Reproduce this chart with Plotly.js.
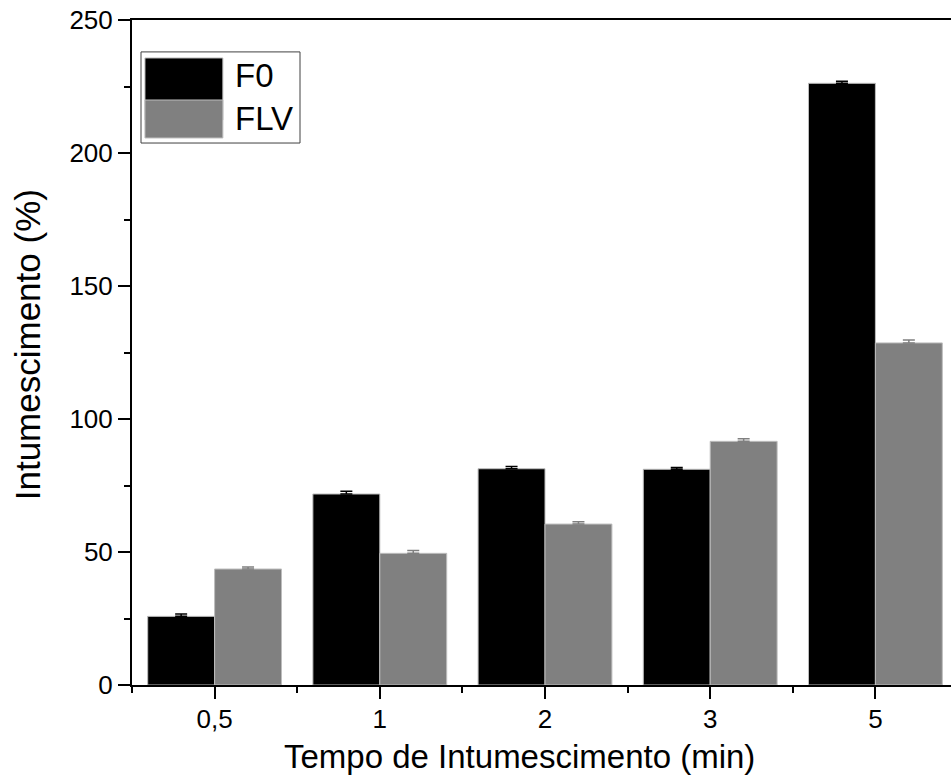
<!DOCTYPE html>
<html>
<head>
<meta charset="utf-8">
<script src="https://cdn.plot.ly/plotly-3.0.1.min.js"></script>
<style>
  html, body { margin: 0; padding: 0; overflow: hidden; background: #fff; }
  #chart { width: 970px; height: 776px; }
</style>
</head>
<body>
<div id="chart"></div>
<script>
// ---- data ----
const categories = ["0,5", "1", "2", "3", "5"];
const seriesNames = ["F0", "FLV"];
const f0Values = [25.8, 71.8, 81.3, 81.1, 226.2];
const f0Errors = [0.9, 1.0, 0.8, 0.7, 0.8];
const flvValues = [43.6, 49.5, 60.5, 91.6, 128.6];
const flvErrors = [0.8, 1.1, 0.9, 1.0, 1.1];
const yTickVals = [0, 50, 100, 150, 200, 250];
const xTitle = "Tempo de Intumescimento (min)";
const yTitle = "Intumescimento (%)";

const colors = ["#000000", "#808080"];
const font = "Liberation Sans, Arial, Helvetica, sans-serif";
const xIdx = categories.map((c, i) => i);

const traces = [
  {
    type: "bar", name: seriesNames[0], x: xIdx, y: f0Values,
    marker: { color: colors[0], line: { color: "#bdbdbd", width: 1 } },
    error_y: { type: "data", array: f0Errors, arrayminus: f0Errors.map(() => 0), symmetric: false,
               color: "#000000", thickness: 1.5, width: 6 },
    showlegend: false
  },
  {
    type: "bar", name: seriesNames[1], x: xIdx, y: flvValues,
    marker: { color: colors[1], line: { color: "#bdbdbd", width: 1 } },
    error_y: { type: "data", array: flvErrors, arrayminus: flvErrors.map(() => 0), symmetric: false,
               color: "#808080", thickness: 1.5, width: 6 },
    showlegend: false
  }
];

// custom legend (large swatches like the original)
const legShapes = [
  { type: "rect", xref: "paper", yref: "paper", x0: 0.0109, x1: 0.2034, y0: 0.815, y1: 0.952,
    line: { color: "#404040", width: 1 }, fillcolor: "#ffffff", layer: "above" },
  { type: "rect", xref: "paper", yref: "paper", x0: 0.0157, x1: 0.110, y0: 0.8496, y1: 0.9429,
    line: { color: "#bdbdbd", width: 1 }, fillcolor: colors[0], layer: "above" },
  { type: "rect", xref: "paper", yref: "paper", x0: 0.0157, x1: 0.110, y0: 0.8226, y1: 0.8797,
    line: { color: "#bdbdbd", width: 1 }, fillcolor: colors[1], layer: "above" }
];
const anns = [
  { xref: "paper", yref: "paper", x: 0.1223, y: 0.9158, xanchor: "left", yanchor: "middle",
    text: seriesNames[0], showarrow: false, font: { family: font, size: 33, color: "#000" } },
  { xref: "paper", yref: "paper", x: 0.1223, y: 0.8526, xanchor: "left", yanchor: "middle",
    text: seriesNames[1], showarrow: false, font: { family: font, size: 33, color: "#000" } },
  // axis titles
  { xref: "paper", yref: "paper", x: 0.4697, y: -0.1368, xanchor: "center", yanchor: "bottom",
    text: xTitle, showarrow: false, borderpad: 0, font: { family: font, size: 33, color: "#000" } },
  { xref: "paper", yref: "paper", x: -0.127, y: 0.511, xanchor: "center", yanchor: "middle",
    text: yTitle, textangle: -90, showarrow: false, font: { family: font, size: 35, color: "#000" } }
];

const layout = {
  width: 970, height: 776,
  margin: { l: 132, r: 12, t: 20, b: 91 },
  paper_bgcolor: "#fff", plot_bgcolor: "#fff",
  font: { family: font, color: "#000" },
  barmode: "group", bargap: 0.19, bargroupgap: 0,
  showlegend: false,
  xaxis: {
    range: [-0.5, categories.length - 0.5],
    tickmode: "array", tickvals: xIdx, ticktext: categories,
    ticks: "outside", ticklen: 12, tickwidth: 2, tickcolor: "#000",
    ticklabelstandoff: -2,
    minor: { tick0: 0.5, dtick: 1, ticks: "outside", ticklen: 6, tickwidth: 2, tickcolor: "#000", showgrid: false },
    showline: true, linecolor: "#000", linewidth: 2, mirror: true,
    showgrid: false, zeroline: false,
    tickfont: { family: font, size: 26, color: "#000" }
  },
  yaxis: {
    range: [0, 250],
    tickmode: "array", tickvals: yTickVals,
    ticks: "outside", ticklen: 12, tickwidth: 2, tickcolor: "#000",
    minor: { dtick: 25, ticks: "outside", ticklen: 6, tickwidth: 2, tickcolor: "#000", showgrid: false },
    showline: true, linecolor: "#000", linewidth: 2, mirror: true,
    showgrid: false, zeroline: false,
    tickfont: { family: font, size: 26, color: "#000" }
  },
  shapes: legShapes,
  annotations: anns
};

Plotly.newPlot("chart", traces, layout, { displayModeBar: false, staticPlot: true });
</script>
</body>
</html>
